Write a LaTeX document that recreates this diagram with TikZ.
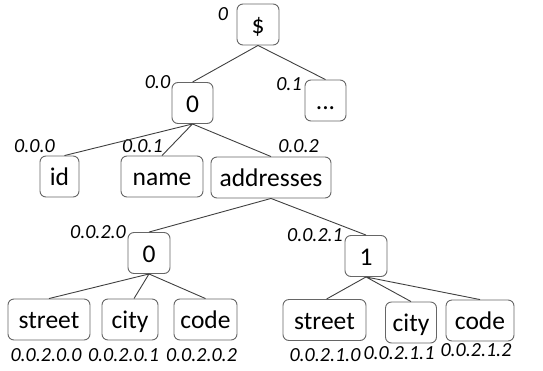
\documentclass[tikz,border=0pt]{standalone}
\usepackage{fontspec}
\setmainfont{Carlito}
\usetikzlibrary{arrows, positioning}

\begin{document}
\begin{tikzpicture}[x=1pt, y=-1pt, semithick,
    box/.style={draw=black!60, rounded corners=6pt, line width=0.9pt, minimum height=41pt, inner sep=0pt, text height=18pt, text depth=0pt, font=\fontsize{25.5}{30}\selectfont},
    link/.style={draw=black!75, line width=0.9pt},
    idx/.style={inner sep=0pt, font=\fontsize{20}{24}\selectfont\itshape}]
    \useasboundingbox (0,0) rectangle (543,370);

    \node[box, minimum width=42pt] (root) at (258,24.5) {\$};
    \node[box, minimum width=41pt] (obj) at (192.5,103) {0};
    \node[box, minimum width=41pt] (more) at (325.5,100.5) {...};
    \node[box, minimum width=39pt] (id) at (59.5,176.5) {id};
    \node[box, minimum width=82pt] (name) at (162,176.5) {name};
    \node[box, minimum width=120pt] (addr) at (271,177.5) {addresses};
    \node[box, minimum width=42pt] (addrA) at (149,253) {0};
    \node[box, minimum width=42pt] (addrB) at (366,256) {1};
    \node[box, minimum width=82pt] (streetA) at (49,319.5) {street};
    \node[box, minimum width=56pt] (cityA) at (130,319.5) {city};
    \node[box, minimum width=63pt] (codeA) at (205.5,319.5) {code};
    \node[box, minimum width=83pt] (streetB) at (324.5,320) {street};
    \node[box, minimum width=51pt] (cityB) at (411,322.5) {city};
    \node[box, minimum width=68pt] (codeB) at (480,320.5) {code};

    \node[idx] (lroot) at (223,14) {0};
    \node[idx] (lobj) at (157.5,82) {0.0};
    \node[idx] (lmore) at (289,84) {0.1};
    \node[idx] (lid) at (34.5,146) {0.0.0};
    \node[idx] (lname) at (142.5,146) {0.0.1};
    \node[idx] (laddr) at (298.5,146) {0.0.2};
    \node[idx] (laddrA) at (98,232) {0.0.2.0};
    \node[idx] (laddrB) at (315,235) {0.0.2.1};
    \node[idx] (lstreetA) at (46,355) {0.0.2.0.0};
    \node[idx] (lcityA) at (123.5,355) {0.0.2.0.1};
    \node[idx] (lcodeA) at (201.5,355) {0.0.2.0.2};
    \node[idx] (lstreetB) at (325,355) {0.0.2.1.0};
    \node[idx] (lcityB) at (399,353) {0.0.2.1.1};
    \node[idx] (lcodeB) at (476,350) {0.0.2.1.2};

    \path[link]
    (root.south) -- (obj.north)
    (root.south) -- (more.north)
    (obj.south) -- ([xshift=5pt]id.north)
    (obj.south) -- (name.north)
    (obj.south) -- (addr.north)
    (addr.south) -- (addrA.north)
    (addr.south) -- (addrB.north)
    (addrA.south) -- (streetA.north)
    (addrA.south) -- ([xshift=4pt]cityA.north)
    (addrA.south) -- (codeA.north)
    (addrB.south) -- ([xshift=2pt]streetB.north)
    (addrB.south) -- (cityB.north)
    (addrB.south) -- (codeB.north);
\end{tikzpicture}
\end{document}
